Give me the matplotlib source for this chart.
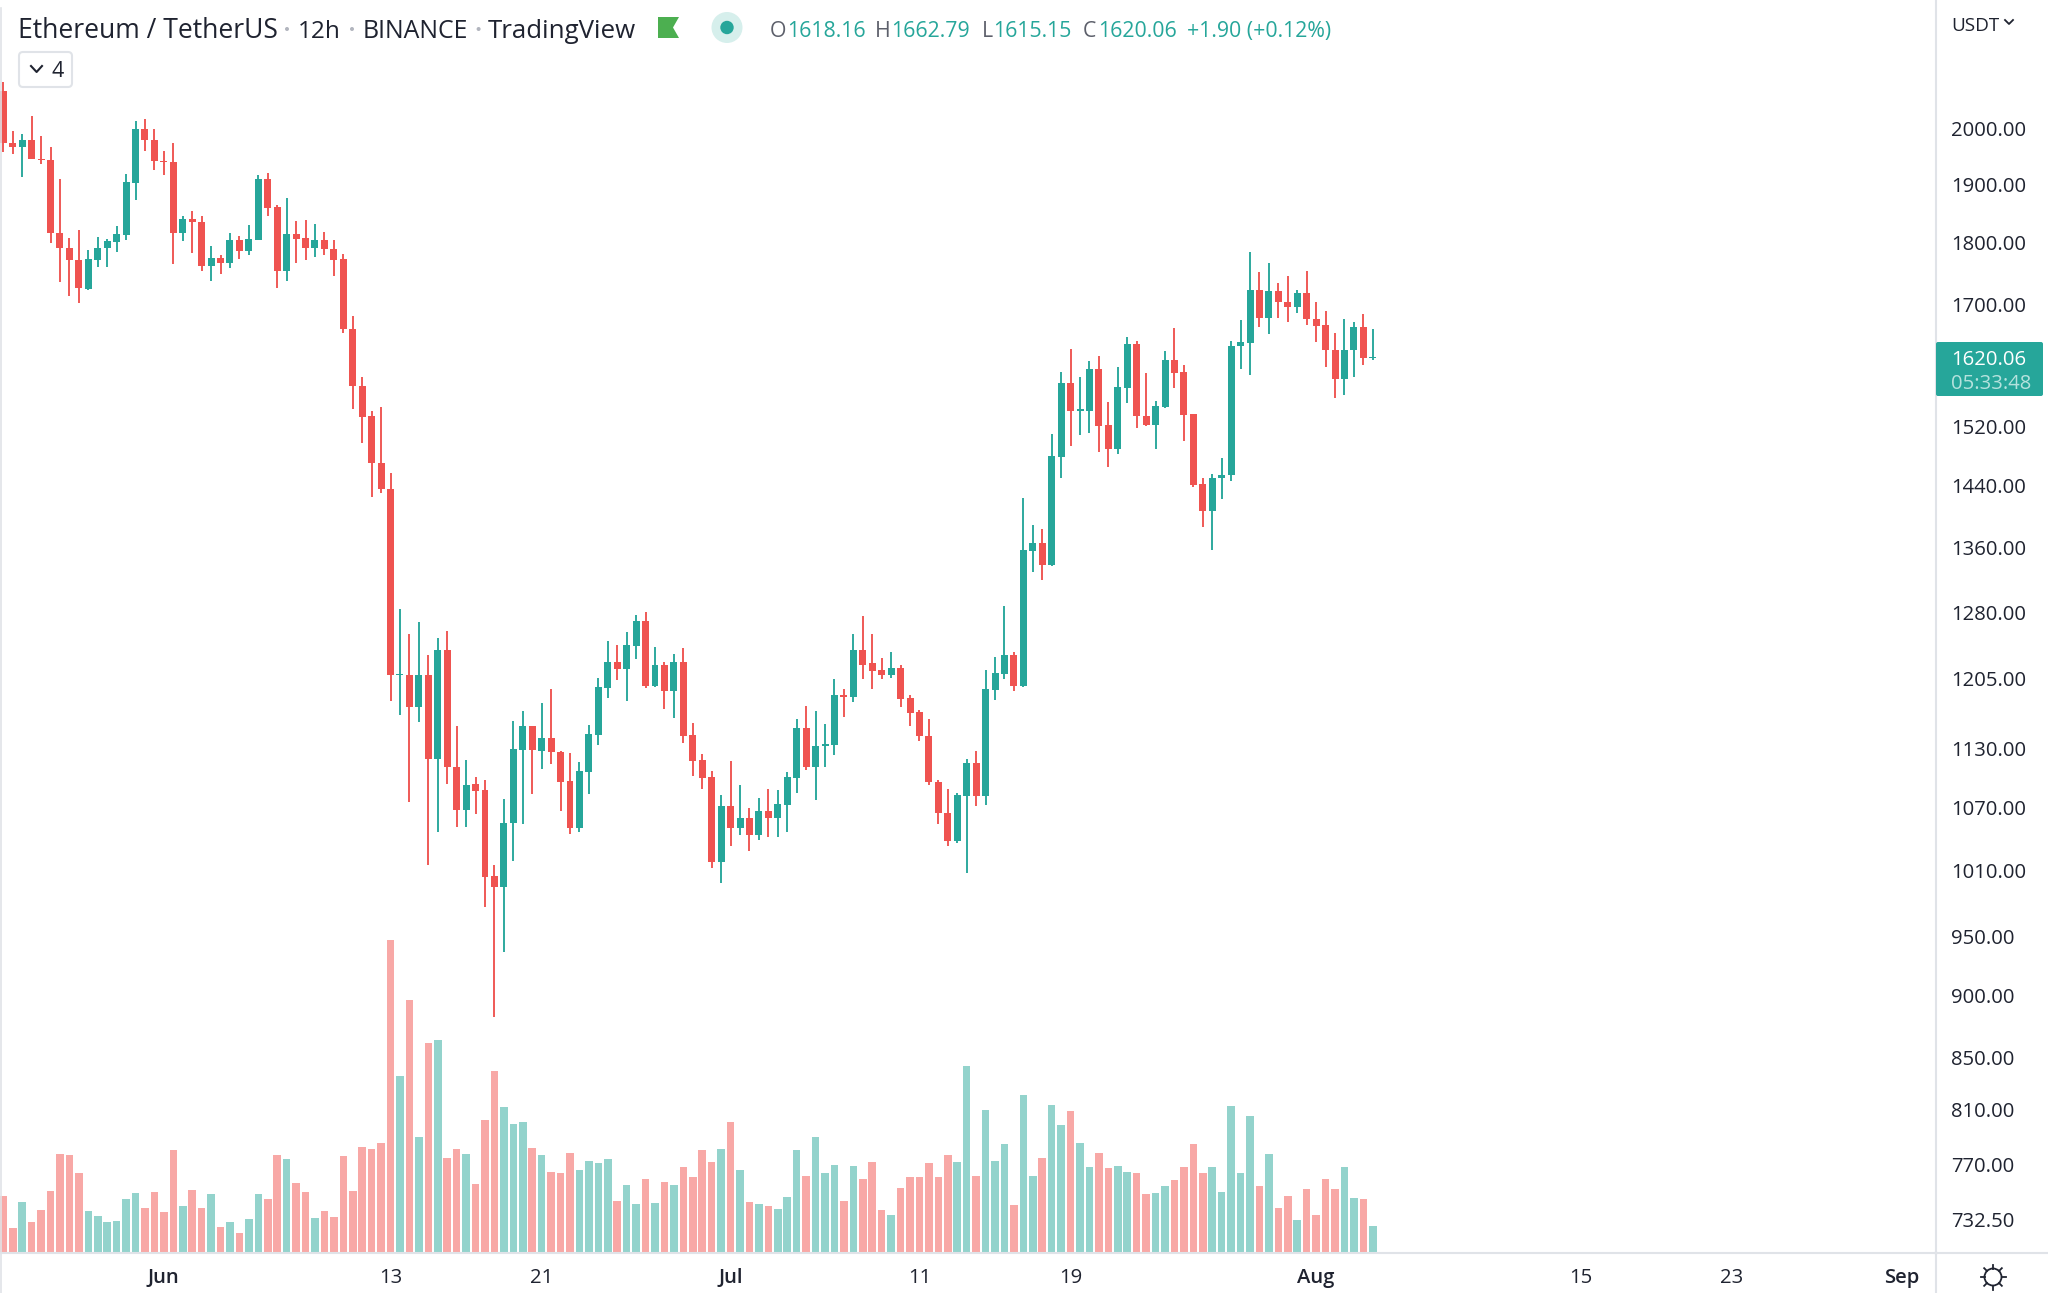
import matplotlib
matplotlib.use('Agg')
import matplotlib.pyplot as plt
from matplotlib.patches import Circle, FancyBboxPatch, Polygon, Rectangle
from matplotlib.ticker import FixedLocator, FixedFormatter, NullLocator
import numpy as np
import math

plt.rcParams['font.family'] = ['Open Sans', 'DejaVu Sans']

opens = [2069,1974,1965,1979,1944,1943,1817,1792,1772,1725,1772,1791,1801,1813,1902,1999,1979,1941,1938,1817,1840,1834,1762,1775,1767,1805,1787,1805,1909,1860,1754,1814,1808,1792,1805,1790,1773,1663,1577,1534,1469,1435,1209,1209,1174,1209,1119,1237,1111,1068,1093,1087,1005,995,1055,1128,1153,1127,1141,1126,1097,1050,1106,1144,1195,1224,1216,1242,1271,1197,1220,1191,1224,1144,1118,1101,1018,1072,1050,1060,1043,1067,1060,1073,1100,1151,1111,1132,1133,1187,1185,1237,1222,1214,1209,1217,1184,1168,1143,1096,1065,1038,1081,1115,1081,1192,1210,1231,1197,1355,1365,1338,1478,1582,1541,1542,1603,1522,1489,1574,1639,1535,1522,1547,1616,1598,1537,1441,1406,1450,1453,1636,1641,1724,1680,1722,1705,1697,1719,1678,1668,1630,1587,1631,1665,1618.16]
highs = [2088,1995,1990,2023,1986,1966,1908,1808,1822,1788,1810,1806,1828,1917,2013,2017,1999,1959,1973,1845,1853,1845,1795,1779,1817,1811,1830,1915,1920,1863,1875,1837,1838,1832,1818,1804,1782,1683,1591,1542,1547,1456,1285,1255,1269,1231,1251,1259,1153,1118,1101,1098,1015,1078,1159,1170,1154,1178,1193,1127,1125,1116,1155,1206,1247,1243,1258,1278,1281,1240,1224,1233,1239,1157,1124,1107,1082,1117,1092,1070,1079,1088,1087,1106,1161,1175,1170,1156,1204,1194,1255,1277,1256,1228,1235,1220,1187,1171,1161,1098,1088,1084,1119,1127,1215,1229,1288,1235,1423,1388,1383,1510,1598,1632,1591,1615,1621,1554,1606,1651,1644,1597,1556,1629,1664,1609,1538,1450,1455,1476,1644,1677,1785,1752,1766,1735,1745,1724,1754,1705,1690,1657,1678,1673,1685,1662.79]
lows = [1957,1953,1913,1944,1936,1800,1736,1714,1703,1723,1761,1761,1785,1804,1873,1959,1925,1915,1765,1803,1783,1754,1737,1749,1758,1773,1780,1804,1844,1726,1737,1766,1772,1777,1780,1745,1657,1545,1497,1424,1430,1180,1165,1076,1158,1015,1046,1093,1051,1051,1064,976,882,937,1019,1054,1083,1109,1114,1067,1044,1046,1083,1133,1184,1203,1180,1227,1195,1196,1172,1162,1136,1102,1088,1012,998,1033,1043,1028,1039,1041,1041,1046,1084,1108,1077,1111,1123,1163,1179,1204,1193,1204,1206,1174,1153,1138,1092,1054,1033,1036,1007,1072,1073,1181,1204,1191,1196,1329,1320,1337,1450,1493,1508,1511,1485,1464,1482,1553,1517,1520,1489,1546,1574,1500,1437,1386,1357,1422,1446,1602,1594,1665,1655,1679,1674,1687,1668,1642,1606,1560,1565,1591,1609,1615.15]
closes = [1974,1965,1979,1944,1942,1816,1792,1771,1726,1773,1792,1803,1814,1904,1999,1978,1941,1938,1817,1840,1834,1762,1775,1767,1805,1787,1806,1909,1859,1754,1814,1807,1792,1805,1789,1772,1662,1577,1533,1469,1435,1209,1210,1174,1209,1119,1237,1111,1068,1092,1086,1004,995,1055,1129,1153,1128,1141,1126,1096,1050,1107,1145,1196,1224,1216,1243,1271,1197,1220,1191,1224,1143,1117,1100,1018,1072,1050,1060,1043,1067,1060,1074,1101,1151,1111,1132,1134,1187,1185,1237,1220,1213,1209,1217,1183,1167,1143,1096,1065,1038,1082,1115,1081,1193,1211,1231,1197,1356,1365,1338,1479,1582,1542,1544,1603,1521,1489,1576,1639,1534,1522,1549,1616,1597,1536,1440,1406,1450,1453,1637,1642,1724,1680,1722,1705,1696,1719,1678,1667,1630,1587,1631,1665,1618,1620.06]
volumes = [56,24,50,30,42,61,98,97,79,41,36,30,31,53,59,44,60,40,102,46,62,44,58,25,30,19,33,58,53,97,93,69,60,34,41,35,96,61,105,103,109,312,176,252,115,209,212,94,103,98,68,132,181,145,128,130,104,97,80,79,99,82,91,89,93,51,67,48,73,49,70,67,85,75,102,90,103,130,82,50,48,46,43,55,102,76,115,79,87,51,86,73,90,42,37,64,75,75,89,75,97,90,186,76,142,91,108,47,157,76,94,147,127,141,109,85,99,84,86,80,79,58,59,66,72,85,108,79,85,60,146,79,136,66,98,44,56,32,63,37,73,63,85,54,53,26]
price_ticks = [2000,1900,1800,1700,1520,1440,1360,1280,1205,1130,1070,1010,950,900,850,810,770,732.5]
time_tick_bars = [17,41,57,77,97,113,139,167,183,201]
time_tick_labels = ['Jun','13','21','Jul','11','19','Aug','15','23','Sep']
month_labels = {'Jun','Jul','Aug','Sep'}

UP, DOWN = '#26a69a', '#ef5350'
UP_V, DOWN_V = '#93d3cc', '#f8a8a6'
LINE = '#e0e3e8'
INK = '#1f2330'
W, H = 2048, 1293
fig = plt.figure(figsize=(W/100, H/100), dpi=100, facecolor='white')
rect = [0, (H-1253)/H, 1936/W, 1253/H]
bar_px = 9.445
xlim = (-3.3/bar_px, (1936-3.3)/bar_px)
o, h, l, c, v = map(np.array, (opens, highs, lows, closes, volumes))
x = np.arange(len(o))
up = c >= o

ax_v = fig.add_axes(rect, zorder=1)
ax_v.bar(x, v, width=0.8, color=[UP_V if u else DOWN_V for u in up], linewidth=0)
ax_v.set_xlim(*xlim)
ax_v.set_ylim(-1, 1252)
ax_v.axis('off')

ax = fig.add_axes(rect, zorder=2)
ax.patch.set_alpha(0)
colors = [UP if u else DOWN for u in up]
ax.vlines(x, l, h, colors=colors, linewidth=1.35, zorder=2)
ax.bar(x, np.abs(c-o), bottom=np.minimum(o, c), width=0.74, color=colors, linewidth=0, zorder=3)
ax.set_xlim(*xlim)
ax.set_yscale('log')
ax.set_ylim(2000*math.exp(-(1253-128.3)/1086), 2000*math.exp(128.3/1086))
ax.yaxis.set_major_locator(FixedLocator(price_ticks))
ax.yaxis.set_major_formatter(FixedFormatter([f'{t:.2f}' for t in price_ticks]))
ax.yaxis.set_minor_locator(NullLocator())
ax.yaxis.tick_right()
ax.tick_params(axis='y', length=0, pad=11, labelsize=14.6, labelcolor=INK)
ax.set_xticks(time_tick_bars)
ax.set_xticklabels(time_tick_labels)
ax.tick_params(axis='x', length=0, pad=10.5, labelsize=14.6, labelcolor=INK)
for t in ax.get_xticklabels():
    if t.get_text() in month_labels:
        t.set_fontweight('semibold')
for s in ('top', 'left'):
    ax.spines[s].set_visible(False)
for s in ('bottom', 'right'):
    ax.spines[s].set_color(LINE)
    ax.spines[s].set_linewidth(1.5)

ui = fig.add_axes([0, 0, 1, 1], zorder=3)
ui.set_xlim(0, W)
ui.set_ylim(H, 0)
ui.axis('off')
ui.plot([1936, W], [1253, 1253], color=LINE, lw=1.5)
ui.plot([1936, 1936], [1253, H], color=LINE, lw=1.5)
ui.plot([1, 1], [8, H], color=LINE, lw=1.2)

def txt(px, py, s, size=14.6, color=INK, **kw):
    ui.text(px, py, s, fontsize=size, color=color, va='baseline', **kw)

txt(18, 38, 'Ethereum / TetherUS', 19.1)
txt(298, 38, '12h', 17.6)
txt(363, 38, 'BINANCE', 17.9)
txt(488, 38, 'TradingView', 18.6)
for dx in (287, 352, 478.6):
    ui.add_patch(Circle((dx, 29), 2, color='#b2b5be', lw=0))
ui.add_patch(Polygon([(658, 17), (679, 17), (673, 27.5), (679, 38), (658, 38)], color='#4caf50', lw=0))
ui.add_patch(Circle((727, 27.5), 15.5, color='#d6efec', lw=0))
ui.add_patch(Circle((727, 27.5), 6.7, color=UP, lw=0))

GREY = '#5d606b'
for px, s, col in [(770, 'O', GREY), (787, '1618.16', UP), (875, 'H', GREY), (891, '1662.79', UP),
                   (982, 'L', GREY), (993, '1615.15', UP), (1083, 'C', GREY), (1098, '1620.06', UP),
                   (1187, '+1.90 (+0.12%)', UP)]:
    txt(px, 37, s, 15.3, col)

ui.add_patch(FancyBboxPatch((19, 52), 53, 35, boxstyle='round,pad=0,rounding_size=4',
                            fc='white', ec=LINE, lw=1.5))
ui.plot([31, 36.6, 42], [66, 72, 66], color=INK, lw=1.5)
txt(52, 77, '4', 15.5)
txt(1951, 31, 'USDT', 13.6)
ui.plot([2005, 2009, 2013], [20, 24, 20], color=INK, lw=1.3)

ui.add_patch(FancyBboxPatch((1936, 342), 107, 54, boxstyle='round,pad=0,rounding_size=2', fc=UP, ec='none'))
txt(1951, 365, '1620.06', 14.6, 'white')
txt(1951, 389, '05:33:48', 14.6, '#b5e2dd')

cx, cy = 1993, 1277
ui.add_patch(Circle((cx, cy), 8.5, fc='none', ec=INK, lw=1.3))
for a in np.deg2rad(np.arange(0, 360, 45)):
    ui.plot([cx+8.5*np.cos(a), cx+12.5*np.cos(a)], [cy+8.5*np.sin(a), cy+12.5*np.sin(a)], color=INK, lw=1.3)

fig.savefig('out.png', dpi=100)
